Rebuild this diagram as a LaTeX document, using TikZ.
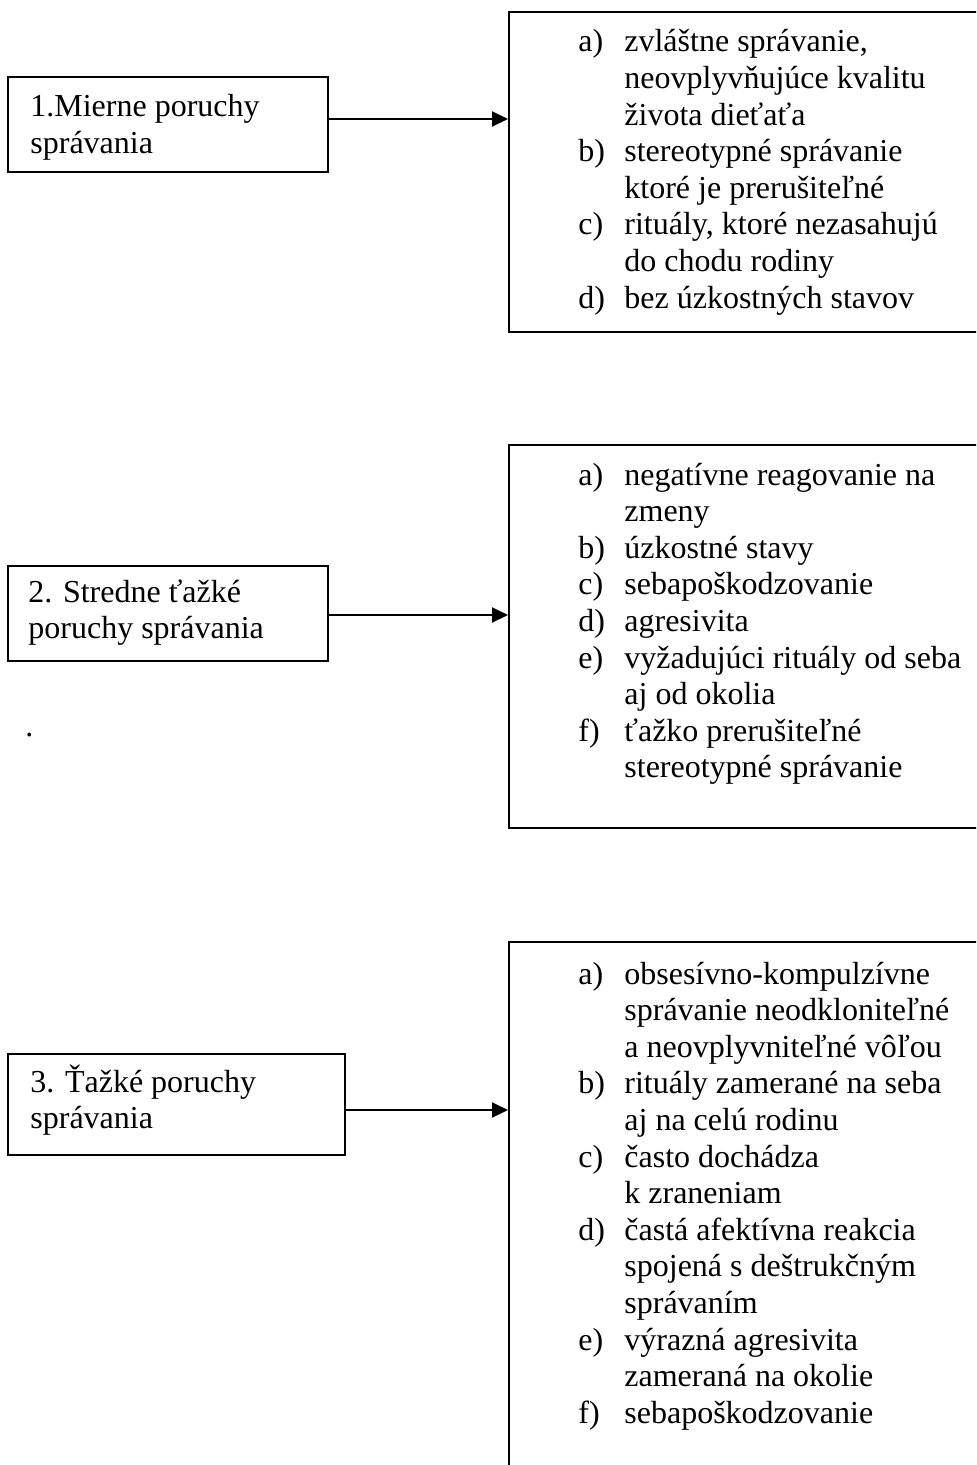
\documentclass[tikz,border=0pt]{standalone}
\usepackage{fontspec}
\setmainfont{Liberation Serif}
\usepackage{tikz}
\usetikzlibrary{arrows.meta}

\begin{document}
\begin{tikzpicture}[x=0.5pt, y=-0.5pt, >={Triangle[length=8pt,width=7.5pt]},
	kasten/.style={draw, line width=1pt, inner sep=0pt},
	textblok/.style={inner sep=0pt, anchor=base west, font=\fontsize{16}{18.3}\selectfont},
	pfeil/.style={->, line width=1pt}]
			\useasboundingbox (0,0) rectangle (976,1465);
			\clip (0,0) rectangle (976,1465);
			% left boxes
			\node[kasten, minimum width=160pt, minimum height=47.5pt] (mierne) at (168,124.5) {};
			\node[kasten, minimum width=160pt, minimum height=47.5pt] (stredne) at (168,613.5) {};
			\node[kasten, minimum width=168.5pt, minimum height=50.5pt] (tazke) at (176.5,1104.5) {};
			% right boxes, open at the page edge
			\node[kasten, minimum width=245.5pt, minimum height=160pt] (znaky1) at (754.5,172) {};
			\node[kasten, minimum width=245.5pt, minimum height=191.5pt] (znaky2) at (754.5,636.5) {};
			\node[kasten, minimum width=245.5pt, minimum height=279pt] (znaky3) at (754.5,1221) {};
			% texts of the left boxes
			\node[textblok] (mierneText) at (30,117) {\begin{tabular}[t]{@{}l@{}}1.Mierne poruchy\\správania\end{tabular}};
			\node[textblok] (strednetext) at (28,602) {\begin{tabular}[t]{@{}l@{}}2. Stredne ťažké\\poruchy správania\end{tabular}};
			\node[textblok] (tazkeText) at (30,1092) {\begin{tabular}[t]{@{}l@{}}3. Ťažké poruchy\\správania\end{tabular}};
			\node[textblok] (bodka) at (25,736) {.};
			% lists
			\node[textblok] (zoznam1) at (578,52) {\begin{tabular}[t]{@{}p{23pt}@{}l@{}}
					a) & zvláštne správanie,\\
					& neovplyvňujúce kvalitu\\
					& života dieťaťa\\
					b) & stereotypné správanie\\
					& ktoré je prerušiteľné\\
					c) & rituály, ktoré nezasahujú\\
					& do chodu rodiny\\
					d) & bez úzkostných stavov
				\end{tabular}};
			\node[textblok] (zoznam2) at (578,485) {\begin{tabular}[t]{@{}p{23pt}@{}l@{}}
					a) & negatívne reagovanie na\\
					& zmeny\\
					b) & úzkostné stavy\\
					c) & sebapoškodzovanie\\
					d) & agresivita\\
					e) & vyžadujúci rituály od seba\\
					& aj od okolia\\
					f) & ťažko prerušiteľné\\
					& stereotypné správanie
				\end{tabular}};
			\node[textblok] (zoznam3) at (578,984) {\begin{tabular}[t]{@{}p{23pt}@{}l@{}}
					a) & obsesívno-kompulzívne\\
					& správanie neodkloniteľné\\
					& a neovplyvniteľné vôľou\\
					b) & rituály zamerané na seba\\
					& aj na celú rodinu\\
					c) & často dochádza\\
					& k zraneniam\\
					d) & častá afektívna reakcia\\
					& spojená s deštrukčným\\
					& správaním\\
					e) & výrazná agresivita\\
					& zameraná na okolie\\
					f) & sebapoškodzovanie
				\end{tabular}};
			% arrows
			\coordinate (z1) at ([yshift=2.75pt]mierne.east);
			\coordinate (z2) at ([yshift=-0.75pt]stredne.east);
			\coordinate (z3) at ([yshift=-2.75pt]tazke.east);
			\draw[pfeil] (z1) -- (z1 -| znaky1.west);
			\draw[pfeil] (z2) -- (z2 -| znaky2.west);
			\draw[pfeil] (z3) -- (z3 -| znaky3.west);
		\end{tikzpicture}
\end{document}
